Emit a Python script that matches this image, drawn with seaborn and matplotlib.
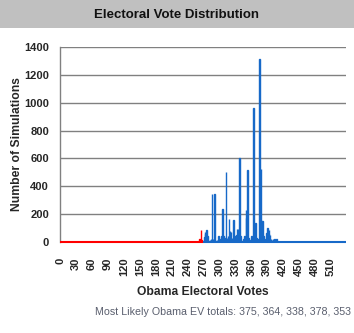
import numpy as np
import pandas as pd
import matplotlib
matplotlib.use("Agg")
import matplotlib.pyplot as plt
from matplotlib.patches import Rectangle
import seaborn as sns

sns.set_theme(style="white")
plt.rcParams["font.family"] = ["Liberation Sans", "DejaVu Sans"]

# Simulated Obama electoral-vote outcomes (only non-zero tallies listed)
sim_ev = [262, 263, 265, 266, 270, 272, 273, 274, 276, 277, 278, 280, 282, 284,
          286, 288, 289, 291, 293, 295, 298, 300, 302, 304, 306, 308, 310, 312,
          314, 316, 318, 319, 320, 322, 324, 326, 328, 330, 332, 333, 335, 338,
          340, 342, 345, 347, 350, 351, 353, 355, 357, 360, 362, 364, 366, 368,
          370, 372, 375, 377, 378, 379, 381, 383, 385, 387, 389, 391, 392, 393,
          395, 397, 399, 401, 403, 404, 406, 408, 410]
sim_counts = [22, 25, 86, 15, 8, 35, 70, 60, 85, 40, 15, 10, 12, 20,
              344, 25, 15, 344, 10, 12, 42, 15, 22, 40, 236, 40, 30, 503,
              30, 45, 164, 40, 78, 70, 30, 155, 40, 15, 50, 93, 90, 603,
              40, 10, 20, 40, 232, 170, 517, 30, 12, 45, 30, 960, 60, 136,
              30, 20, 1314, 160, 522, 60, 150, 40, 15, 25, 68, 100, 60, 85,
              50, 20, 12, 25, 10, 25, 10, 22, 8]

total_ev = 538
win_threshold = 270
x_tick_values = list(range(0, 511, 30))
y_tick_values = list(range(0, 1401, 200))

ev = np.arange(0, total_ev + 1)
counts = np.zeros_like(ev)
counts[sim_ev] = sim_counts
df = pd.DataFrame({
    "ev": ev,
    "count": counts,
    "outcome": np.where(ev < win_threshold, "lose", "win"),
})

RED = "#FF0000"
BLUE = "#1769C8"
GRID = "#808080"

fig = plt.figure(figsize=(3.54, 3.33), dpi=100)
W, H = 354, 333
ax = fig.add_axes([60 / W, 91 / H, (346 - 60) / W, (242 - 47) / H])

# title band
fig.patches.append(Rectangle((0, 1 - 28 / H), 1, 28 / H, transform=fig.transFigure,
                             facecolor="#C0C0C0", edgecolor="none", zorder=0))
fig.text(0.5, 1 - 15 / H, "Electoral Vote Distribution", ha="center", va="center",
         fontsize=9.5, fontweight="bold", color="#111111")

sns.barplot(data=df, x="ev", y="count", hue="outcome", order=list(ev),
            palette={"lose": RED, "win": BLUE}, dodge=False, width=1.0,
            linewidth=1.0, saturation=1, legend=False, ax=ax)
for patch in ax.patches:
    patch.set_edgecolor(patch.get_facecolor())

ax.set_xlim(-0.5, total_ev + 0.5)
ax.set_ylim(0, 1400)
ax.set_yticks(y_tick_values)
ax.set_yticklabels([str(v) for v in y_tick_values], fontsize=8, fontweight="bold")
ax.set_xticks(x_tick_values)
ax.set_xticklabels([str(v) for v in x_tick_values], rotation=90, fontsize=8,
                   fontweight="bold")
ax.tick_params(axis="both", length=0)
ax.tick_params(axis="x", pad=11)
ax.tick_params(axis="y", pad=8)

ax.grid(False)
for v in y_tick_values[1:]:
    ax.axhline(v, color=GRID, lw=1.0, zorder=0)
ax.set_axisbelow(True)

for side in ["top", "right", "bottom"]:
    ax.spines[side].set_visible(False)
ax.spines["left"].set_color(GRID)
ax.spines["left"].set_linewidth(1.0)

# zero line coloured by outcome
ax.plot([-0.5, win_threshold - 0.5], [0, 0], color=RED, lw=1.5, clip_on=False,
        zorder=5, solid_capstyle="butt")
ax.plot([win_threshold - 0.5, total_ev + 0.5], [0, 0], color=BLUE, lw=1.5,
        clip_on=False, zorder=5, solid_capstyle="butt")

ax.set_xlabel("Obama Electoral Votes", fontsize=8.7, fontweight="bold", labelpad=7)
ax.set_ylabel("Number of Simulations", fontsize=8.7, fontweight="bold", labelpad=1)

fig.text(351 / W, 1 - 312 / H, "Most Likely Obama EV totals: 375, 364, 338, 378, 353",
         ha="right", va="center", fontsize=7.7, color="#5A5F6E")

fig.savefig("out.png", dpi=100)
